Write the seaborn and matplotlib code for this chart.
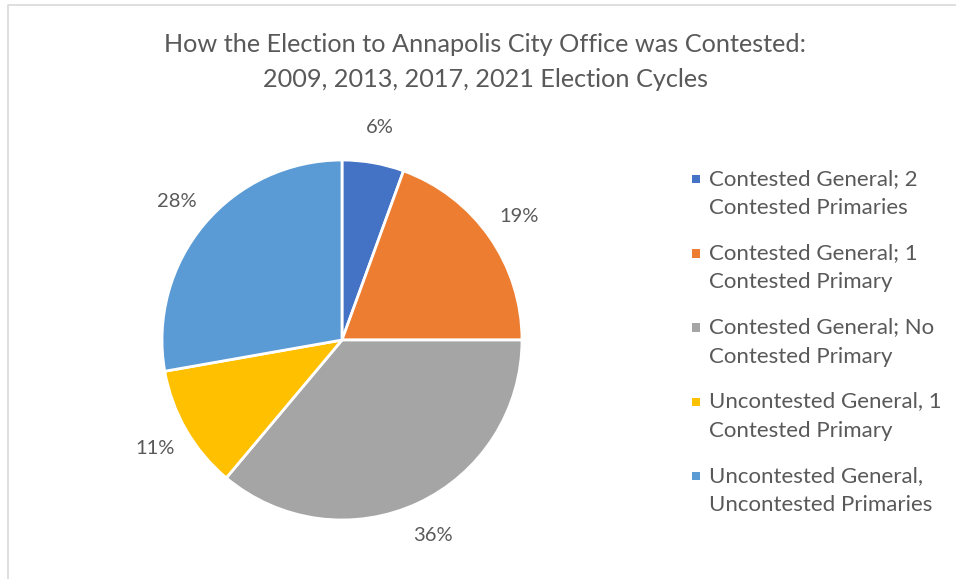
import matplotlib
matplotlib.use("Agg")
import matplotlib.pyplot as plt
import seaborn as sns
from matplotlib.lines import Line2D
from matplotlib.patches import Rectangle
from matplotlib.legend_handler import HandlerPatch

# chart data (counts of offices)
categories = [
    "Contested General; 2\nContested Primaries",
    "Contested General; 1\nContested Primary",
    "Contested General; No\nContested Primary",
    "Uncontested General, 1\nContested Primary",
    "Uncontested General,\nUncontested Primaries",
]
counts = [2, 7, 13, 4, 10]
colors = ["#4472C4", "#ED7D31", "#A5A5A5", "#FFC000", "#5B9BD5"]
title_lines = ["How the Election to Annapolis City Office was Contested:",
               "2009, 2013, 2017, 2021 Election Cycles"]

sns.set_theme(style="white")
plt.rcParams["font.family"] = ["Lato", "DejaVu Sans"]
text_color = "#595959"

W, H = 956, 579
fig = plt.figure(figsize=(W / 100, H / 100), dpi=100)

# chart area border (only top and left visible)
fig.add_artist(Line2D([8 / W, 8 / W, 1.0], [0.0, 1 - 5 / H, 1 - 5 / H],
                      transform=fig.transFigure, color="#D9D9D9", lw=1.2))

# pie axes: centre (342, 340), radius 180 px
cx, cy, r = 342, 340, 180
ax = fig.add_axes([(cx - r) / W, (H - cy - r) / H, 2 * r / W, 2 * r / H])
wedges, texts, autotexts = ax.pie(
    counts, colors=colors, startangle=90, counterclock=False,
    autopct="%.0f%%", pctdistance=1.2, radius=1.0,
    wedgeprops=dict(edgecolor="white", linewidth=2),
    textprops=dict(color=text_color, fontsize=14.5),
)
ax.set_xlim(-1, 1)
ax.set_ylim(-1, 1)
ax.set_aspect("equal")
ax.axis("off")

fig.text(485 / W, 1 - 62 / H, "\n".join(title_lines), ha="center", va="center",
         fontsize=18.2, color=text_color, linespacing=1.6)

LEG_FS = 16


class SquareHandler(HandlerPatch):
    # small square sitting on the first line of a two-line label
    def create_artists(self, legend, orig_handle, xdescent, ydescent,
                       width, height, fontsize, trans):
        s = 0.38 * fontsize
        p = Rectangle((-xdescent, height - s + 0.66 * fontsize), s, s,
                      facecolor=orig_handle.get_facecolor(), edgecolor="none",
                      transform=trans)
        return [p]


handles = [Rectangle((0, 0), 1, 1, facecolor=c) for c in colors]
leg = fig.legend(handles, categories, loc="upper left",
                 bbox_to_anchor=(692 / W, 1 - 169 / H), frameon=False,
                 fontsize=LEG_FS, handlelength=0.4, handleheight=0.45,
                 handletextpad=0.37, labelspacing=1.12, borderpad=0,
                 borderaxespad=0,
                 handler_map={Rectangle: SquareHandler()})
for t in leg.get_texts():
    t.set_color(text_color)
    t.set_linespacing(1.58)

fig.savefig("out.png", dpi=100)
